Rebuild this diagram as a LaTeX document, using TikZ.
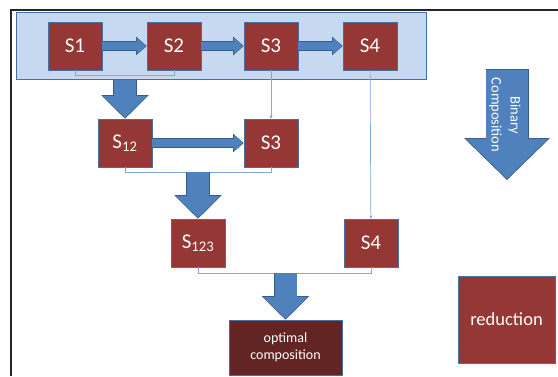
\documentclass[tikz,border=0pt]{standalone}
\usepackage{fontspec}
\setmainfont{Carlito}
\usetikzlibrary{arrows.meta,calc}
\definecolor{boxred}{RGB}{149,55,53}
\definecolor{deepred}{RGB}{99,37,35}
\definecolor{boxedge}{RGB}{75,110,160}
\definecolor{arrowblue}{RGB}{79,129,189}
\definecolor{arrowedge}{RGB}{56,93,138}
\definecolor{bandfill}{RGB}{198,217,240}
\definecolor{bandedge}{RGB}{70,110,170}
\definecolor{linkblue}{RGB}{130,168,215}
\tikzset{
  sbox/.style    ={rectangle, fill=boxred, draw=boxedge, line width=0.6pt, text=white,
                   minimum width=54pt, minimum height=48pt, inner sep=0pt,
                   font=\fontsize{21}{24}\selectfont},
  optbox/.style  ={rectangle, fill=deepred, draw=boxedge, line width=0.6pt, text=white,
                   minimum width=113pt, minimum height=55pt, inner sep=0pt, align=center,
                   font=\fontsize{14}{17}\selectfont},
  band/.style    ={rectangle, fill=bandfill, draw=bandedge, line width=1pt,
                   minimum width=410pt, minimum height=67pt, inner sep=0pt},
  fatedge/.style ={line width=23.5pt, draw=arrowedge,
                   -{Triangle[length=23.5pt,width=47.5pt,line width=0pt]}},
  fatfill/.style ={line width=22pt, draw=arrowblue, shorten >=1.05pt,
                   -{Triangle[length=21.5pt,width=43.5pt,line width=0pt]}},
  flatedge/.style={line width=10pt, draw=arrowedge,
                   -{Triangle[length=10.5pt,width=18.5pt,line width=0pt]}},
  flatfill/.style={line width=8.6pt, draw=arrowblue, shorten >=0.95pt,
                   -{Triangle[length=8.9pt,width=15.6pt,line width=0pt]}},
  bigedge/.style ={line width=43pt, draw=arrowedge,
                   -{Triangle[length=42pt,width=86pt,line width=0pt]}},
  bigfill/.style ={line width=41.4pt, draw=arrowblue, shorten >=1.12pt, shorten <=0.8pt,
                   -{Triangle[length=40.1pt,width=82.1pt,line width=0pt]}},
  legendtext/.style={text=white, align=center, inner sep=0pt,
                   font=\fontsize{14.5}{19}\selectfont},
  link/.style    ={draw=linkblue, line width=0.7pt},
  linkarrow/.style={link, -{Triangle[length=3pt,width=3pt]}},
  frame/.style   ={draw=black!85, line width=1.6pt}
}
\begin{document}
\begin{tikzpicture}[x=1pt, y=-1pt]
\useasboundingbox (0,0) rectangle (558,376);
% frame and band
\draw[frame] (11,376) |- (558,10);
\node[band] (band) at (221,45.5) {};
% boxes
\foreach \x/\n in {75/1, 174/2, 271/3, 370/4}{
  \node[sbox] (s\n) at (\x,46) {S\n};
}
\node[sbox] (s12) at (125,143) {S\textsubscript{12}};
\node[sbox] (s3b) at (271,143) {S3};
\node[sbox] (s123) at (198,243) {S\textsubscript{123}};
\node[sbox] (s4b) at (371,243) {S4};
\node[optbox] (opt) at (285.5,347.5) {optimal\\composition};
% legend
\coordinate (legtop) at (507,69);
\coordinate (legtip) at (507,180);
\draw[bigedge] (legtop) -- (legtip);
\draw[bigfill] (legtop) -- (legtip);
\node[legendtext, rotate=-90] (binary) at (505,115) {Binary\\Composition};
\node[sbox, minimum width=97pt, minimum height=87pt,
      font=\fontsize{18.5}{22}\selectfont] (reduction) at (506.5,319.5) {reduction};
% brackets
\draw[link] (s1.south) -- ++(0,5) coordinate (b1) -| (s2.south);
\draw[link] (s12.south) -- ++(0,5) coordinate (b2) -| (s3b.south);
\draw[link] (s123.south) -- ++(0,6) coordinate (b3) -| (s4b.south);
% thin links
\draw[linkarrow] (s3) -- (s3b);
\draw[linkarrow] (s4) -- (s4b);
% flat arrows
\foreach \a/\b in {s1/s2, s2/s3, s3/s4, s12/s3b}{
  \draw[flatedge] (\a) -- (\b);
  \draw[flatfill] (\a) -- (\b);
}
% fat arrows
\draw[fatedge] (s12.north |- band.south) -- (s12.north);
\draw[fatfill] (s12.north |- band.south) -- (s12.north);
\draw[fatedge] (b2 -| s123.north) -- (s123.north);
\draw[fatfill] (b2 -| s123.north) -- (s123.north);
\draw[fatedge] (b3 -| opt.north) -- (opt.north);
\draw[fatfill] (b3 -| opt.north) -- (opt.north);
\end{tikzpicture}
\end{document}
